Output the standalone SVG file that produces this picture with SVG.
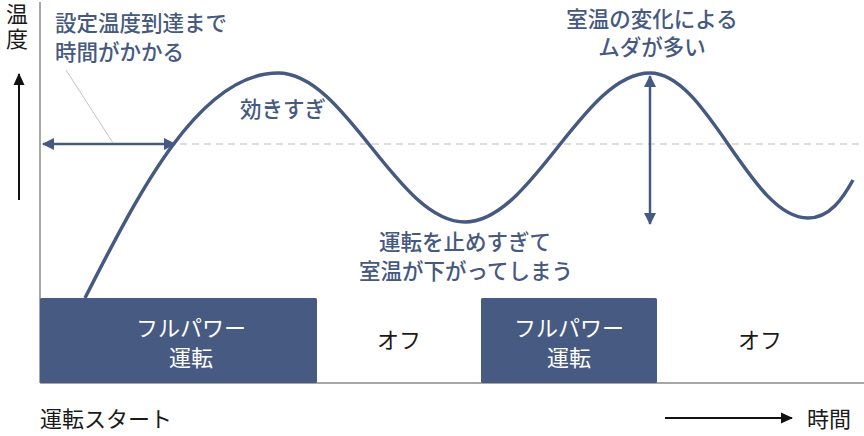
<svg xmlns="http://www.w3.org/2000/svg" width="864" height="436" viewBox="0 0 864 436">
<defs>
<style>
.lbl{font-family:"Noto Sans CJK JP","Noto Sans",sans-serif;font-size:21.5px;font-weight:500;fill:#465980;text-anchor:middle}
.blk{font-family:"Noto Sans CJK JP","Noto Sans",sans-serif;font-size:22px;fill:#1a1a1a}
.wht{font-family:"Noto Sans CJK JP","Noto Sans",sans-serif;font-size:22px;fill:#ffffff;text-anchor:middle}
.box{fill:#475a82}
.axis{stroke:#8a8a8a;stroke-width:1.5;fill:none}
.blue{stroke:#465980;fill:none}
</style>
<marker id="ab" viewBox="0 0 12 12" refX="11" refY="6" markerWidth="12" markerHeight="12" markerUnits="userSpaceOnUse" orient="auto-start-reverse">
<path d="M0,0 L12,6 L0,12 Z" fill="#465980"/>
</marker>
<marker id="ak" viewBox="0 0 12 12" refX="11" refY="6" markerWidth="12" markerHeight="12" markerUnits="userSpaceOnUse" orient="auto">
<path d="M0,0.5 L12,6 L0,11.5 Z" fill="#111"/>
</marker>
</defs>
<rect width="864" height="436" fill="#ffffff"/>

<g id="axes">
<line class="axis" x1="40" y1="2" x2="40" y2="383"/>
<line class="axis" x1="40" y1="383" x2="864" y2="383"/>
</g>

<g id="target-line">
<line x1="180" y1="144" x2="864" y2="144" stroke="#d2d2d2" stroke-width="1.3" stroke-dasharray="7,5"/>
</g>

<g id="connectors">
<path id="curve" class="blue" stroke-width="3.5" d="M85,298 C140,190 200,73 278,73 C346,73 397,222 465,222 C532,222 583,73 650,73 C708,73 750,218 808,218 C830,218 843,198 853,180"/>
<line class="blue" stroke-width="2.5" x1="43" y1="144" x2="175" y2="144" marker-start="url(#ab)" marker-end="url(#ab)"/>
<line class="blue" stroke-width="2.5" x1="650" y1="76" x2="650" y2="224" marker-start="url(#ab)" marker-end="url(#ab)"/>
<line x1="66" y1="70" x2="113" y2="143" stroke="#c4c4c4" stroke-width="1"/>
<line stroke="#111" stroke-width="2" x1="19" y1="200" x2="19" y2="74" marker-end="url(#ak)"/>
<line stroke="#111" stroke-width="2" x1="665" y1="418" x2="792" y2="418" marker-end="url(#ak)"/>
</g>

<g id="box1">
<rect class="box" x="40" y="298" width="277" height="85" rx="1.5"/>
<text class="wht" x="191" y="336">フルパワー</text>
<text class="wht" x="191" y="366">運転</text>
</g>
<g id="off1">
<text class="blk" x="399" y="348" text-anchor="middle">オフ</text>
</g>
<g id="box2">
<rect class="box" x="481" y="298" width="176" height="85" rx="1.5"/>
<text class="wht" x="569" y="336">フルパワー</text>
<text class="wht" x="569" y="366">運転</text>
</g>
<g id="off2">
<text class="blk" x="760" y="348" text-anchor="middle">オフ</text>
</g>

<g id="label-reach">
<text class="lbl" x="55" y="31" style="text-anchor:start">設定温度到達まで</text>
<text class="lbl" x="55" y="60" style="text-anchor:start">時間がかかる</text>
</g>
<g id="label-over">
<text class="lbl" x="283" y="117">効きすぎ</text>
</g>
<g id="label-waste">
<text class="lbl" x="652" y="27">室温の変化による</text>
<text class="lbl" x="652" y="55">ムダが多い</text>
</g>
<g id="label-drop">
<text class="lbl" x="465" y="250">運転を止めすぎて</text>
<text class="lbl" x="466" y="279">室温が下がってしまう</text>
</g>

<g id="axis-labels">
<text class="blk" x="17" y="3" style="writing-mode:vertical-rl;font-size:22px;letter-spacing:3px">温度</text>
<text class="blk" x="40" y="427">運転スタート</text>
<text class="blk" x="807" y="427">時間</text>
</g>
</svg>
